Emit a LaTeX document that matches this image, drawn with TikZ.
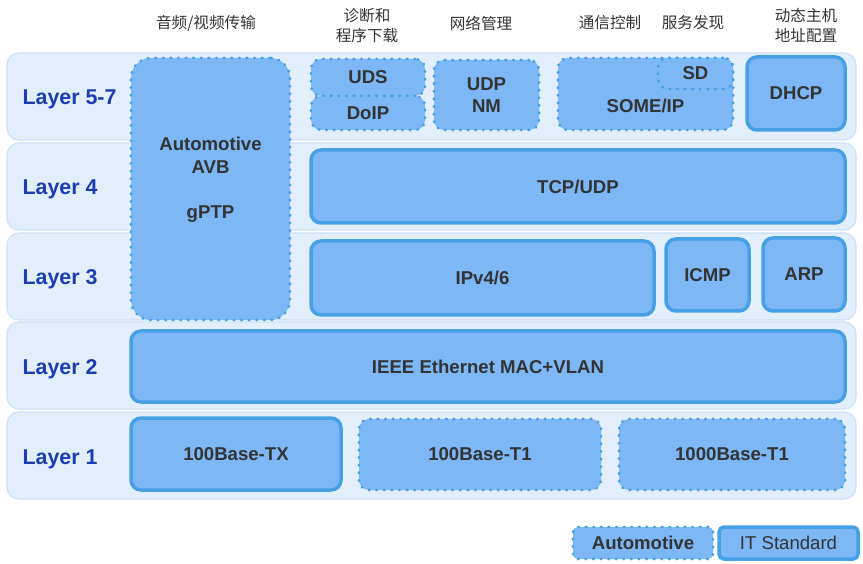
\documentclass[tikz,border=0pt]{standalone}
\usepackage{fontspec}
\setmainfont{Liberation Sans}
\newfontfamily\cjk{Noto Sans CJK SC}
\usepackage{tikz}
\usetikzlibrary{positioning}

\definecolor{bandfill}{HTML}{E3EEFC}
\definecolor{bandline}{HTML}{CCE0F7}
\definecolor{boxfill}{HTML}{7DB7F6}
\definecolor{boxline}{HTML}{45A0E6}
\definecolor{txtdark}{HTML}{333333}
\definecolor{layerblue}{HTML}{1A3DB3}

\begin{document}
\begin{tikzpicture}[x=1pt,y=-1pt,
    band/.style={rectangle,rounded corners=12pt,fill=bandfill,draw=bandline,line width=1.2pt,
                 minimum width=849pt,minimum height=87pt,inner sep=0pt},
    layerlbl/.style={font=\fontsize{21.4}{25}\selectfont\bfseries,text=layerblue,anchor=west},
    itbox/.style={rectangle,rounded corners=10pt,fill=boxfill,draw=boxline,line width=3.5pt,
                  inner sep=0pt,font=\fontsize{18.6}{22.5}\selectfont\bfseries,text=txtdark},
    autobox/.style={rectangle,rounded corners=10pt,fill=boxfill,draw=boxline,line width=2.8pt,
                    line cap=round,dash pattern=on 0.6pt off 7pt,
                    inner sep=0pt,font=\fontsize{18.6}{22.5}\selectfont\bfseries,text=txtdark},
    head/.style={font=\cjk\fontsize{15.6}{20}\selectfont,text=txtdark,align=center}]
\useasboundingbox (0,0) rectangle (863,564);

% layer bands
\node[band] (b57) at (431.5,96.5) {};
\node[band] (b4) at (431.5,186.5) {};
\node[band] (b3) at (431.5,276.5) {};
\node[band] (b2) at (431.5,365.5) {};
\node[band] (b1) at (431.5,455.5) {};
\node[layerlbl] (l57) at (19,99) {Layer 5-7};
\node[layerlbl] (l4) at (19,189) {Layer 4};
\node[layerlbl] (l3) at (19,279) {Layer 3};
\node[layerlbl] (l2) at (19,369) {Layer 2};
\node[layerlbl] (l1) at (19,459) {Layer 1};

% headings
\node[head] (hav) at (206,23) {音频/视频传输};
\node[head] (hdiag) at (367,26) {诊断和\\程序下载};
\node[head] (hnm) at (481,23) {网络管理};
\node[head] (hcom) at (610,23) {通信控制};
\node[head] (hsd) at (693,23) {服务发现};
\node[head] (hdhcp) at (806,26) {动态主机\\地址配置};

% layer 5-7
\node[autobox,rounded corners=20pt,minimum width=159pt,minimum height=262pt] (avb) at (210.5,189) {};
\node[font=\fontsize{18.6}{23}\selectfont\bfseries,text=txtdark,align=center] (avbtxt) at (210.5,180)
    {Automotive\\AVB\\[22pt]gPTP};
\node[autobox,minimum width=114pt,minimum height=37pt] (uds) at (368,77.5) {UDS};
\node[autobox,minimum width=114pt,minimum height=34pt] (doip) at (368,113) {DoIP};
\node[autobox,minimum width=105pt,minimum height=70pt,align=center] (udpnm) at (486.5,95) {UDP\\NM};
\node[autobox,minimum width=175pt,minimum height=72pt] (someip) at (645.5,94) {};
\node[font=\fontsize{18.6}{22.5}\selectfont\bfseries,text=txtdark] (sometxt) at (645.5,106) {SOME/IP};
\node[autobox,minimum width=75pt,minimum height=31pt] (sd) at (695.5,73.5) {SD};
\node[itbox,minimum width=98pt,minimum height=73pt] (dhcp) at (796,93.5) {DHCP};

% layer 4
\node[itbox,minimum width=534pt,minimum height=73pt] (tcp) at (578,186.5) {TCP/UDP};

% layer 3
\node[itbox,minimum width=343pt,minimum height=74pt] (ip) at (482.5,278) {IPv4/6};
\node[itbox,minimum width=83pt,minimum height=72pt] (icmp) at (707.5,275) {ICMP};
\node[itbox,minimum width=82pt,minimum height=73pt] (arp) at (804,274.5) {ARP};

% layer 2
\node[itbox,minimum width=714pt,minimum height=71pt] (mac) at (488,366.5) {IEEE Ethernet MAC+VLAN};

% layer 1
\node[itbox,minimum width=210pt,minimum height=72pt] (tx) at (236,454) {100Base-TX};
\node[autobox,minimum width=242pt,minimum height=71pt] (t1) at (480,454.5) {100Base-T1};
\node[autobox,minimum width=226pt,minimum height=71pt] (gt1) at (732,454.5) {1000Base-T1};

% legend
\node[autobox,rounded corners=5pt,minimum width=140pt,minimum height=32pt] (legauto) at (643,543) {Automotive};
\node[itbox,rounded corners=5pt,minimum width=139pt,minimum height=32pt,font=\fontsize{18.6}{22.5}\selectfont] (legit) at (788.5,543) {IT Standard};
\end{tikzpicture}
\end{document}
